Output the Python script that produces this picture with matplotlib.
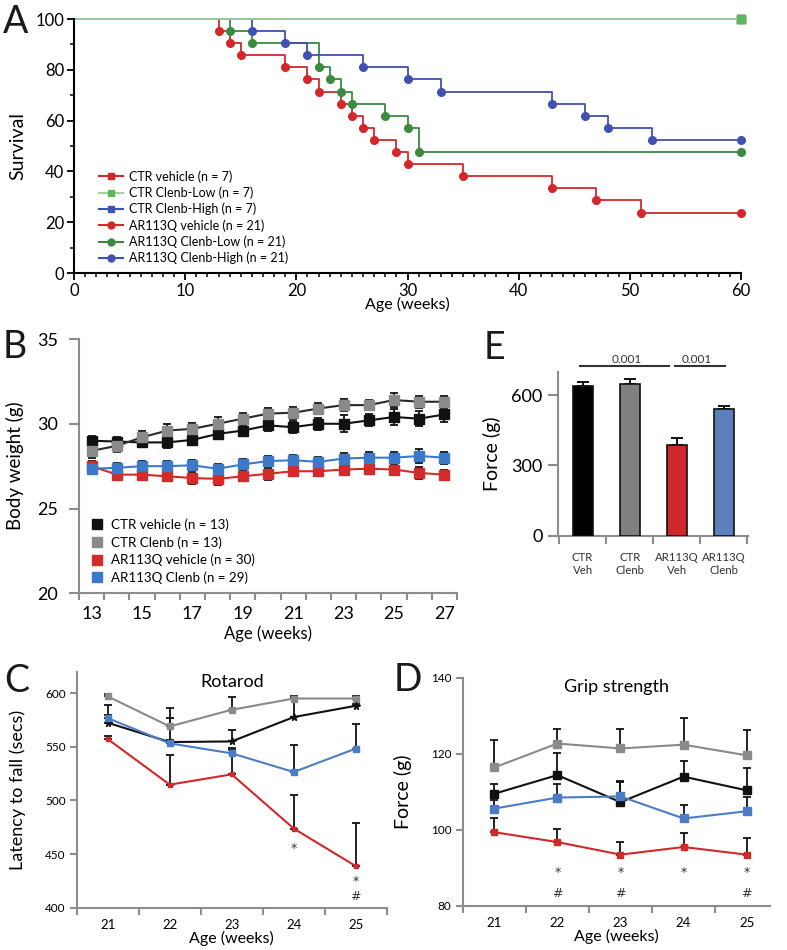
import matplotlib
matplotlib.use("Agg")
import matplotlib.pyplot as plt
import matplotlib.ticker as mticker
from matplotlib.lines import Line2D

plt.rcParams['font.family'] = ['Lato', 'DejaVu Sans']

# ---------------- data ----------------
# A: Kaplan-Meier survival (%)
km_red_t = [0, 13, 14, 15, 19, 21, 22, 24, 25, 26, 27, 29, 30, 35, 43, 47, 51, 60]
km_red = [100, 95.2, 90.5, 85.7, 81.0, 76.2, 71.4, 66.7, 61.9, 57.1, 52.4, 47.6,
          42.9, 38.1, 33.3, 28.6, 23.8, 23.8]
km_green_t = [0, 14, 16, 22, 23, 24, 25, 28, 30, 31, 60]
km_green = [100, 95.2, 90.5, 81.0, 76.2, 71.4, 66.7, 61.9, 57.1, 47.6, 47.6]
km_blue_t = [0, 16, 19, 21, 26, 30, 33, 43, 46, 48, 52, 60]
km_blue = [100, 95.2, 90.5, 85.7, 81.0, 76.2, 71.4, 66.7, 61.9, 57.1, 52.4, 52.4]
km_ctr_t = [0, 60]
km_ctr = [100, 100]
km_labels = ["CTR vehicle (n = 7)", "CTR Clenb-Low (n = 7)", "CTR Clenb-High (n = 7)",
             "AR113Q vehicle (n = 21)", "AR113Q Clenb-Low (n = 21)",
             "AR113Q Clenb-High (n = 21)"]

# B: body weight (g)
bw_weeks = [13, 14, 15, 16, 17, 18, 19, 20, 21, 22, 23, 24, 25, 26, 27]
bw_ctr_veh = [29.0, 28.95, 28.9, 28.9, 29.05, 29.4, 29.6, 29.9, 29.8, 30.0, 30.0, 30.2, 30.4, 30.3, 30.55]
bw_ctr_veh_err = [0.3, 0.25, 0.25, 0.3, 0.3, 0.3, 0.3, 0.3, 0.35, 0.35, 0.5, 0.35, 0.45, 0.45, 0.45]
bw_ctr_cl = [28.4, 28.7, 29.2, 29.6, 29.7, 30.0, 30.3, 30.6, 30.65, 30.9, 31.1, 31.1, 31.4, 31.3, 31.3]
bw_ctr_cl_err = [0.4, 0.35, 0.35, 0.4, 0.35, 0.4, 0.35, 0.35, 0.35, 0.35, 0.35, 0.3, 0.4, 0.35, 0.35]
bw_ar_veh = [27.5, 27.0, 27.0, 26.9, 26.8, 26.75, 26.9, 27.05, 27.2, 27.2, 27.3, 27.35, 27.3, 27.1, 27.0]
bw_ar_veh_err = [0.3, 0.25, 0.25, 0.3, 0.35, 0.35, 0.3, 0.35, 0.3, 0.3, 0.3, 0.3, 0.35, 0.35, 0.3]
bw_ar_cl = [27.35, 27.4, 27.5, 27.5, 27.55, 27.35, 27.6, 27.8, 27.85, 27.75, 27.95, 28.0, 28.0, 28.1, 28.0]
bw_ar_cl_err = [0.3, 0.3, 0.3, 0.3, 0.3, 0.3, 0.3, 0.3, 0.3, 0.3, 0.35, 0.35, 0.35, 0.4, 0.35]
bw_labels = ["CTR vehicle (n = 13)", "CTR Clenb (n = 13)", "AR113Q vehicle (n = 30)",
             "AR113Q Clenb (n = 29)"]

# E: force (g)
force_groups = ["CTR\nVeh", "CTR\nClenb", "AR113Q\nVeh", "AR113Q\nClenb"]
force_vals = [638, 646, 387, 539]
force_err = [16, 21, 31, 16]
force_pvals = ["0.001", "0.001"]

# C: rotarod latency (s)
wk = [21, 22, 23, 24, 25]
rot_gray = [597, 569, 584.5, 595, 595]
rot_gray_err = [2, 17, 11.5, 2, 2]
rot_black = [572.4, 554.4, 555, 577.7, 588.2]
rot_black_err = [17, 22, 11, 18, 2]
rot_blue = [576.7, 553.2, 543.9, 526.5, 548.3]
rot_blue_err = [3, 3, 3, 25.5, 23]
rot_red = [557.2, 514.7, 524.3, 473.8, 438.8]
rot_red_err = [3, 28, 25, 31.7, 40]
rot_star = [24, 25]
rot_hash = [25]

# D: grip strength (g)
grip_gray = [116.4, 122.7, 121.4, 122.4, 119.6]
grip_gray_err = [7.2, 3.9, 5.0, 7.1, 6.6]
grip_black = [109.5, 114.4, 107.3, 114.0, 110.4]
grip_black_err = [2.5, 5.7, 5.3, 4.2, 5.8]
grip_blue = [105.6, 108.5, 108.8, 103.0, 104.9]
grip_blue_err = [2.2, 3.6, 4.0, 3.6, 3.8]
grip_red = [99.4, 96.8, 93.5, 95.5, 93.5]
grip_red_err = [3.6, 3.5, 3.4, 3.8, 4.3]
grip_star = [22, 23, 24, 25]
grip_hash = [22, 23, 25]

# ---------------- figure ----------------
W, H = 787, 950
fig = plt.figure(figsize=(W / 100, H / 100), dpi=100)


def px_axes(l, t, r, b):
    return fig.add_axes([l / W, 1 - b / H, (r - l) / W, (b - t) / H])


def style_gray(ax, spine_c="#8c8c8c"):
    for s in ["top", "right"]:
        ax.spines[s].set_visible(False)
    for s in ["left", "bottom"]:
        ax.spines[s].set_color(spine_c)
        ax.spines[s].set_linewidth(1.5)
    ax.tick_params(which="both", color=spine_c, width=1.5, direction="out")


RED = "#d3272b"
DGREEN = "#3b8a3f"
BLUE_A = "#3f51b2"
LGREEN = "#a3d597"
LGREEN_M = "#5db85a"

# ---- A ----
axA = px_axes(74, 19, 741, 273)
for c in [RED, BLUE_A]:
    axA.step(km_ctr_t, km_ctr, where="post", color=c, lw=1.3, clip_on=False)
    axA.plot(km_ctr_t[-1:], km_ctr[-1:], "s", color=c, ms=6, clip_on=False)
for t, s, c in [(km_red_t, km_red, RED), (km_green_t, km_green, DGREEN),
                (km_blue_t, km_blue, BLUE_A)]:
    axA.step(t, s, where="post", color=c, lw=1.3, clip_on=False)
    axA.plot(t[1:], s[1:], "o", color=c, ms=5.5, clip_on=False)
axA.step(km_ctr_t, km_ctr, where="post", color=LGREEN, lw=1.3, clip_on=False)
axA.plot(km_ctr_t[-1:], km_ctr[-1:], "s", color=LGREEN_M, ms=6, clip_on=False)
axA.set_xlim(0, 60)
axA.set_ylim(0, 100)
for s in ["top", "right"]:
    axA.spines[s].set_visible(False)
for s in ["left", "bottom"]:
    axA.spines[s].set_linewidth(1.5)
axA.xaxis.set_major_locator(mticker.MultipleLocator(10))
axA.xaxis.set_minor_locator(mticker.MultipleLocator(1))
axA.yaxis.set_major_locator(mticker.MultipleLocator(20))
axA.yaxis.set_minor_locator(mticker.MultipleLocator(10))
axA.tick_params(which="major", length=5, width=1.3, labelsize=12, pad=2)
axA.tick_params(which="minor", length=3, width=1.1)
axA.set_ylabel("Survival", fontsize=14)
axA.yaxis.set_label_coords(-0.072, 0.5)
axA.set_xlabel("Age (weeks)", fontsize=11.5)
axA.xaxis.set_label_coords(0.5, -0.095)
handlesA = [
    Line2D([], [], color=RED, marker="s", ms=5),
    Line2D([], [], color=LGREEN, marker="s", ms=5, mfc=LGREEN_M, mec=LGREEN_M),
    Line2D([], [], color=BLUE_A, marker="s", ms=5),
    Line2D([], [], color=RED, marker="o", ms=5),
    Line2D([], [], color=DGREEN, marker="o", ms=5),
    Line2D([], [], color=BLUE_A, marker="o", ms=5),
]
axA.legend(handlesA, km_labels, loc="lower left", bbox_to_anchor=(0.025, 0.0),
           frameon=False, fontsize=9, handlelength=1.9, labelspacing=0.3,
           handletextpad=0.5, borderpad=0.2)

# ---- B ----
axB = px_axes(79, 339, 457, 593.3)
style_gray(axB)
b_series = [
    (bw_ctr_veh, bw_ctr_veh_err, "#111111", "#111111"),
    (bw_ctr_cl, bw_ctr_cl_err, "#8a8a8a", "#2a2a2a"),
    (bw_ar_veh, bw_ar_veh_err, "#d42a2a", "#d42a2a"),
    (bw_ar_cl, bw_ar_cl_err, "#3c7ac9", "#3c7ac9"),
]
for vals, err, mc, lc in b_series:
    axB.errorbar(bw_weeks, vals, yerr=err, fmt="none", ecolor="#111111",
                 elinewidth=1.3, capsize=3, capthick=1.3, zorder=2)
    axB.plot(bw_weeks, vals, "-", color=lc, lw=1.5, zorder=3)
    axB.plot(bw_weeks, vals, "s", color=mc, ms=7, zorder=4)
axB.set_xlim(12.5, 27.5)
axB.set_ylim(20, 35)
axB.set_xticks(bw_weeks[::2])
axB.set_xticks([w - 0.5 for w in bw_weeks] + [bw_weeks[-1] + 0.5], minor=True)
axB.tick_params(axis="x", which="major", length=0, labelsize=13, pad=9)
axB.tick_params(axis="x", which="minor", length=5)
axB.set_yticks([20, 25, 30, 35])
axB.tick_params(axis="y", which="major", length=7, labelsize=13, pad=8)
axB.set_ylabel("Body weight (g)", fontsize=13.5)
axB.yaxis.set_label_coords(-0.145, 0.5)
axB.set_xlabel("Age (weeks)", fontsize=12)
axB.xaxis.set_label_coords(0.5, -0.125)
handlesB = [Line2D([], [], ls="none", marker="s", ms=7.5, color=c)
            for c in ["#111111", "#8a8a8a", "#d42a2a", "#3c7ac9"]]
axB.legend(handlesB, bw_labels, loc="lower left", bbox_to_anchor=(0.01, 0.0),
           frameon=False, handlelength=0.8, labelspacing=0.38,
           handletextpad=0.6, borderpad=0.2, prop={"size": 9.6})

# ---- E ----
axE = px_axes(557.7, 371.7, 748.3, 535.7)
style_gray(axE)
xs = list(range(len(force_groups)))
axE.bar(xs, force_vals, width=0.43, color=["#000000", "#808080", "#d0272c", "#5b7fbd"],
        edgecolor="#111111", linewidth=1.2, zorder=3)
axE.errorbar(xs, force_vals, yerr=[[0] * 4, force_err], fmt="none", ecolor="#111111",
             elinewidth=1.4, capsize=4, capthick=1.4, zorder=2)
axE.set_xlim(-0.53, 3.52)
axE.set_ylim(0, 700)
axE.set_xticks(xs)
axE.set_xticklabels(force_groups, fontsize=8.2, color="#333333", linespacing=1.15)
axE.set_xticks([-0.5, 0.5, 1.5, 2.5, 3.5], minor=True)
axE.tick_params(axis="x", which="major", length=0, pad=12)
axE.tick_params(axis="x", which="minor", length=6)
axE.set_yticks([0, 300, 600])
axE.tick_params(axis="y", length=7, labelsize=13, pad=4)
axE.set_ylabel("Force (g)", fontsize=14)
axE.yaxis.set_label_coords(-0.30, 0.5)
axE.plot([-0.05, 1.84], [724, 724], color="#333333", lw=1.5, clip_on=False)
axE.plot([1.97, 3.02], [724, 724], color="#333333", lw=1.5, clip_on=False)
axE.text(0.94, 754, force_pvals[0], ha="center", va="center", fontsize=8.5, color="#333333")
axE.text(2.43, 754, force_pvals[1], ha="center", va="center", fontsize=8.5, color="#333333")

# ---- C & D ----
GRAY_L = "#8a8a8a"
BLUE_L = "#4a7dc4"
RED_L = "#d3282b"


def line_panel(ax, series, ylim, yticks, title, ylabel, ylab_x, ylab_fs):
    style_gray(ax)
    for vals, err, col, mk, ms in series:
        ax.errorbar(wk, vals, yerr=[[0] * len(err), err], fmt="none", ecolor="#111111",
                    elinewidth=1.3, capsize=3, capthick=1.3, zorder=2)
    for vals, err, col, mk, ms in series:
        ax.plot(wk, vals, "-", color=col, lw=1.5, marker=mk, ms=ms, zorder=3)
    ax.set_ylim(*ylim)
    ax.set_yticks(yticks)
    ax.set_xticks(wk)
    ax.set_xticks([w - 0.5 for w in wk] + [wk[-1] + 0.5], minor=True)
    ax.tick_params(axis="x", which="major", length=0, labelsize=9.5, pad=8)
    ax.tick_params(axis="x", which="minor", length=5)
    ax.tick_params(axis="y", length=5, labelsize=8.5, pad=3)
    ax.set_title(title, fontsize=13, y=0.9)
    ax.set_ylabel(ylabel, fontsize=ylab_fs)
    ax.yaxis.set_label_coords(ylab_x, 0.5)
    ax.set_xlabel("Age (weeks)", fontsize=11.5)
    ax.xaxis.set_label_coords(0.5, -0.1)


def mark(ax, x, y, s):
    ax.text(x, y, s, ha="center", va="center", fontsize=9, color="#333333",
            family=["DejaVu Sans"])


axC = px_axes(76.7, 671.7, 386.7, 907.7)
line_panel(axC, [
    (rot_gray, rot_gray_err, GRAY_L, "s", 5),
    (rot_black, rot_black_err, "#111111", "*", 5.5),
    (rot_blue, rot_blue_err, BLUE_L, "s", 5),
    (rot_red, rot_red_err, RED_L, "s", 3.5),
], (400, 620), [400, 450, 500, 550, 600], "Rotarod", "Latency to fall (secs)", -0.165, 13)
axC.set_xlim(20.5, 25.5)
for w in rot_star:
    mark(axC, w, 455 if w == 24 else 424, "*")
for w in rot_hash:
    mark(axC, w, 410, "#")

axD = px_axes(462.7, 677.7, 770, 906)
line_panel(axD, [
    (grip_gray, grip_gray_err, GRAY_L, "s", 5.5),
    (grip_black, grip_black_err, "#111111", "s", 5.5),
    (grip_blue, grip_blue_err, BLUE_L, "s", 5.5),
    (grip_red, grip_red_err, RED_L, "s", 5),
], (80, 140), [80, 100, 120, 140], "Grip strength", "Force (g)", -0.165, 14)
axD.set_xlim(20.5, 25.37)
axD.set_xticks([w - 0.5 for w in wk], minor=True)
for w in grip_star:
    mark(axD, w, 88.8, "*")
for w in grip_hash:
    mark(axD, w, 83.3, "#")

# panel letters
for letter, x, y in [("A", 3, 33), ("B", 3, 358), ("E", 484, 359), ("C", 4, 692),
                     ("D", 394, 691)]:
    fig.text(x / W, 1 - y / H, letter, fontsize=27, va="baseline", ha="left",
             color="#1a1a1a")

fig.savefig("out.png", dpi=100)
